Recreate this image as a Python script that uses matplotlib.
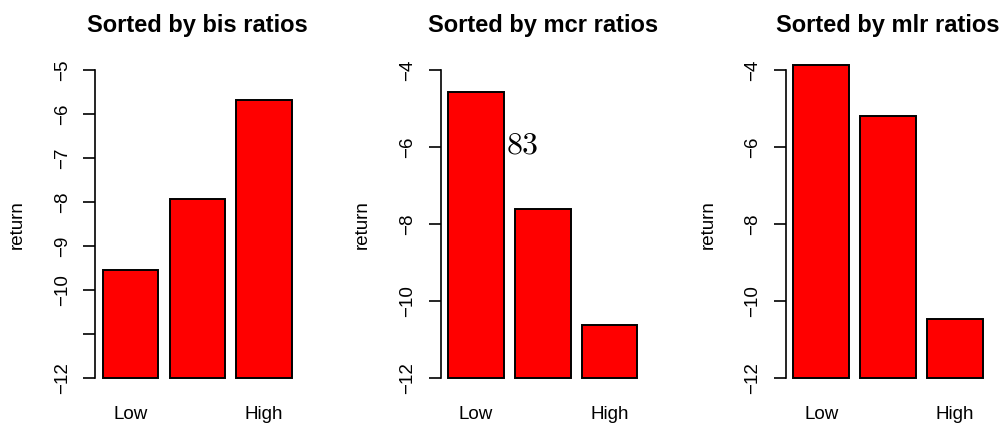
import matplotlib
matplotlib.use("Agg")
import matplotlib.pyplot as plt
import matplotlib.transforms as mtransforms

# ---- data ----
titles = ["Sorted by bis ratios", "Sorted by mcr ratios", "Sorted by mlr ratios"]
bis_returns = [-9.55, -7.93, -5.67]
mcr_returns = [-4.57, -7.60, -10.62]
mlr_returns = [-3.86, -5.19, -10.45]
group_labels = ["Low", "", "High"]
bis_ticks = [-12, -11, -10, -9, -8, -7, -6, -5]
bis_ticklabels = ["\u221212", "", "\u221210", "\u22129", "\u22128", "\u22127", "\u22126", "\u22125"]
mcr_ticks = [-12, -10, -8, -6, -4]
mcr_ticklabels = ["\u221212", "\u221210", "\u22128", "\u22126", "\u22124"]
mlr_ticks = [-12, -10, -8, -6, -4]
mlr_ticklabels = ["\u221212", "\u221210", "\u22128", "\u22126", "\u22124"]
annotation_text = "83"
base_value = -12

W, H = 1007, 425
DPI = 100
fig = plt.figure(figsize=(W / DPI, H / DPI), dpi=DPI)
plt.rcParams['font.family'] = ['Liberation Sans', 'DejaVu Sans']

lefts_px = [95.1, 440.5, 785.9]
ax_w_px = 204.5
bottom_px = 378.3
top_px = 70.0

datasets = [(bis_returns, bis_ticks, bis_ticklabels),
            (mcr_returns, mcr_ticks, mcr_ticklabels),
            (mlr_returns, mlr_ticks, mlr_ticklabels)]

bar_centers = [0.7, 1.9, 3.1]
FS = 13.5

for i, (vals, ticks, tlabels) in enumerate(datasets):
    ax = fig.add_axes([lefts_px[i] / W, (H - bottom_px) / H, ax_w_px / W, (bottom_px - top_px) / H])
    heights = [v - base_value for v in vals]
    ax.bar(bar_centers, heights, bottom=base_value, width=1.0, color="#FF0000",
           edgecolor="black", linewidth=1.4, clip_on=False)
    ax.set_xlim(0.064, 3.736)
    ax.set_ylim(min(ticks), max(ticks))
    for s in ["top", "right", "bottom"]:
        ax.spines[s].set_visible(False)
    ax.spines["left"].set_linewidth(1.2)
    ax.set_yticks(ticks)
    ax.set_yticklabels(tlabels, rotation=90, va="center", fontsize=FS)
    ax.tick_params(axis="y", direction="out", length=8.6, width=1.2, pad=9)
    ax.set_xticks([])
    trans = mtransforms.blended_transform_factory(ax.transData, ax.transAxes)
    for x, lab in zip(bar_centers, group_labels):
        if lab:
            ax.text(x, -0.132, lab, transform=trans, ha="center", va="baseline", fontsize=FS)
    ax.text(-0.381, 0.5, "return", rotation=90, ha="center", va="center",
            transform=ax.transAxes, fontsize=FS)
    ax.text(0.5, 1.124, titles[i], ha="center", va="baseline", transform=ax.transAxes,
            fontsize=17, fontweight="bold")
    ax.patch.set_visible(False)
    if i == 1:
        ax.text(1.24, -5.95, "$" + annotation_text + "$", ha="left", va="center",
                fontsize=23, math_fontfamily="cm")

fig.savefig("out.png", dpi=DPI)
